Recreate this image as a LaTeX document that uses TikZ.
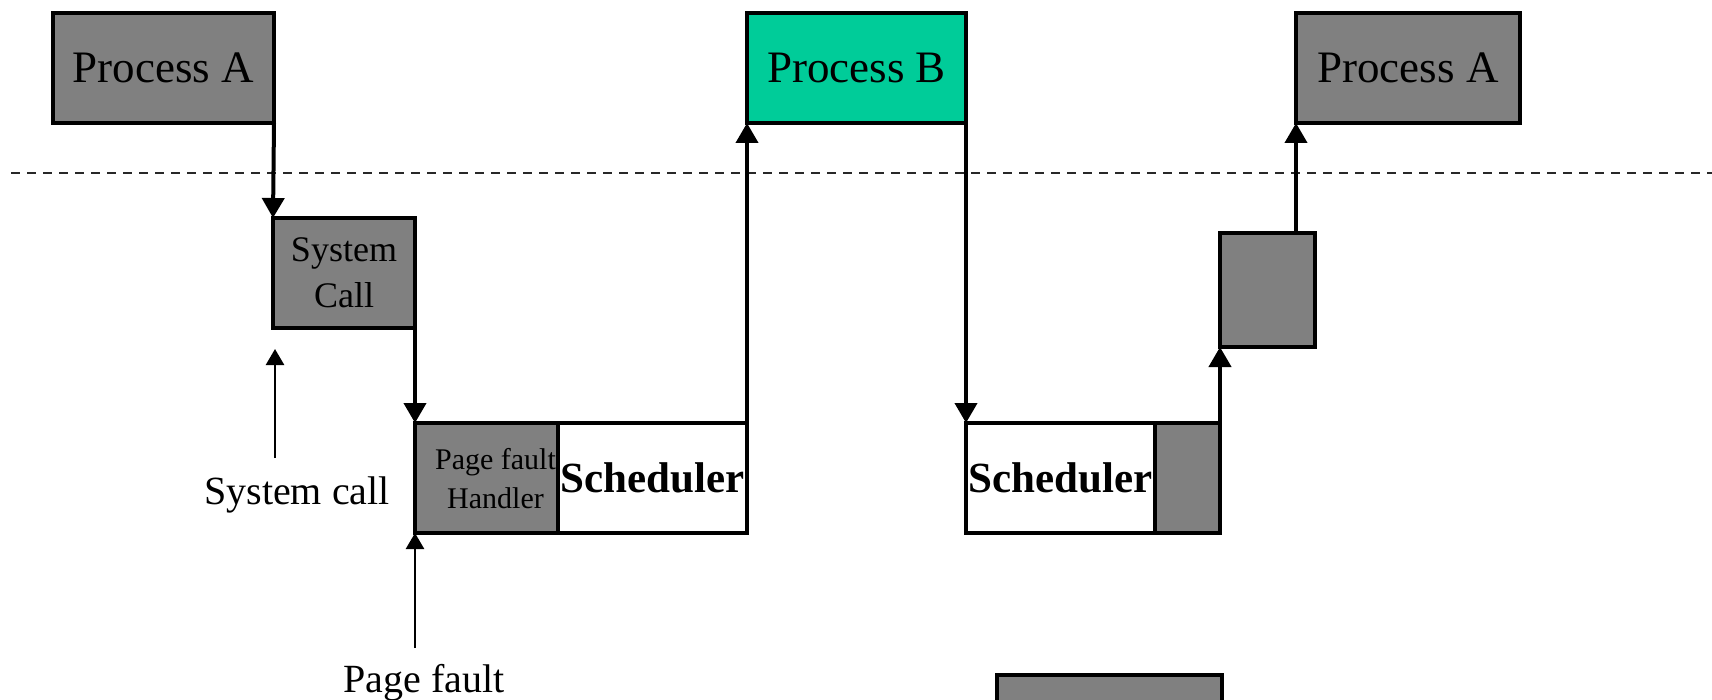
\documentclass[tikz,border=0pt]{standalone}
\usepackage{fontspec}
\setmainfont{Liberation Serif}
\usetikzlibrary{arrows.meta}

\definecolor{procgray}{RGB}{128,128,128}
\definecolor{procgreen}{RGB}{0,204,153}
\definecolor{userline}{RGB}{40,40,40}

\tikzset{
  box/.style={draw=black, line width=4pt, rectangle, inner sep=0pt, outer sep=0pt,
              anchor=north west},
  graybox/.style={box, fill=procgray},
  whitebox/.style={box, fill=white},
  greenbox/.style={box, fill=procgreen},
  proctext/.style={font=\fontsize{45}{50}\selectfont},
  schedtext/.style={font=\bfseries\fontsize{43}{48}\selectfont},
  flow/.style={line width=4pt, -{Triangle[length=20pt,width=22pt]}},
  note/.style={line width=2.5pt, -{Triangle[length=16pt,width=18pt]}},
  notetext/.style={font=\fontsize{40}{46}\selectfont, inner sep=0pt, anchor=base},
  boundary/.style={draw=userline, line width=2pt, dash pattern=on 9pt off 7pt}
}

\begin{document}
\begin{tikzpicture}[x=1pt, y=-1pt]
  \useasboundingbox (0,0) rectangle (1712,700);
  \clip (0,0) rectangle (1712,700);
  \fill[white] (0,0) rectangle (1712,700);

  % user / kernel boundary
  \coordinate (bl) at (11,173);
  \coordinate (br) at (1712,173);
  \draw[boundary] (bl) -- (br);

  % user-mode processes
  \node[graybox, proctext, minimum width=221pt, minimum height=110pt] (pa1) at (53,13) {Process A};
  \node[greenbox, proctext, minimum width=219pt, minimum height=110pt] (pb) at (747,13) {Process B};
  \node[graybox, proctext, minimum width=224pt, minimum height=110pt] (pa2) at (1296,13) {Process A};

  % kernel activity
  \node[graybox, align=center, font=\fontsize{36}{46}\selectfont,
        minimum width=142pt, minimum height=110pt] (sc) at (273,218) {System\\Call};
  \node[graybox, minimum width=143pt, minimum height=110pt] (pf) at (415,423) {};
  \node[align=center, font=\fontsize{30}{39}\selectfont, inner sep=0pt]
       (pftext) at ([xshift=9pt, yshift=-1pt]pf.center) {Page fault\\Handler};
  \node[whitebox, schedtext, minimum width=189pt, minimum height=110pt] (sch1) at (558,423) {Scheduler};
  \node[whitebox, schedtext, minimum width=189pt, minimum height=110pt] (sch2) at (966,423) {Scheduler};
  \node[graybox, minimum width=65pt, minimum height=110pt] (g1) at (1155,423) {};
  \node[graybox, minimum width=95pt, minimum height=114pt] (g2) at (1220,233) {};
  \node[graybox, minimum width=225pt, minimum height=80pt] (g3) at (997,675) {};

  % control flow
  \draw[flow] (pa1.south east) -- (sc.north west);
  \draw[flow] (sc.south east) -- (pf.north west);
  \draw[flow] (sch1.north east) -- (pb.south west);
  \draw[flow] (pb.south east) -- (sch2.north west);
  \draw[flow] (g1.north east) -- (g2.south west);
  \draw[flow] (pa2.south west |- g2.north) -- (pa2.south west);

  % event labels
  \node[notetext] (sclbl) at (297,504) {System call};
  \coordinate (scfoot) at (275,458);
  \coordinate (sctip) at (275,349);
  \draw[note] (scfoot) -- (sctip);

  \node[notetext] (pflbl) at (424,692) {Page fault};
  \coordinate (pffoot) at (415,648);
  \draw[note] (pffoot) -- (pf.south west);
\end{tikzpicture}
\end{document}
